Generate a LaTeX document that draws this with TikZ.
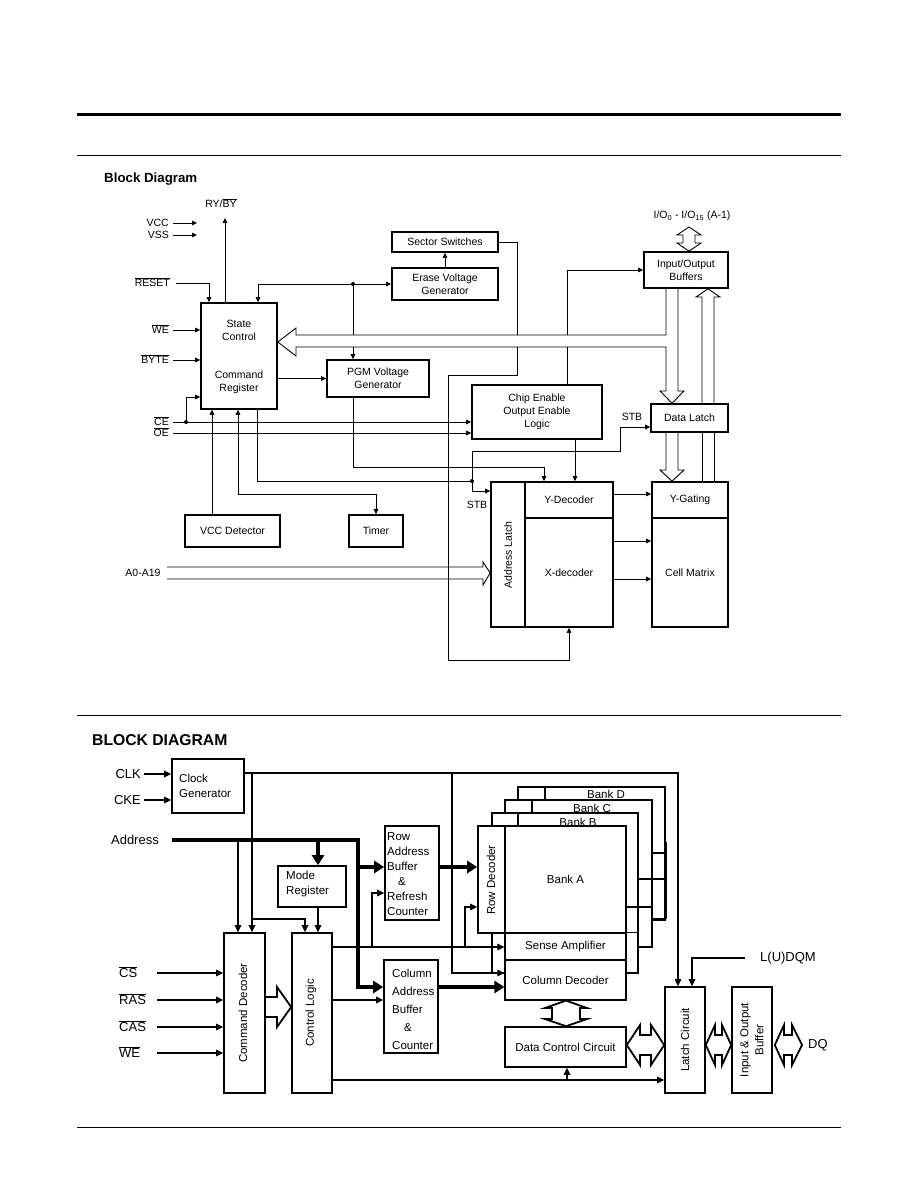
\documentclass[tikz,border=0pt]{standalone}
\usepackage{fontspec}
\setmainfont{Liberation Sans}
\usetikzlibrary{arrows.meta}
\newcommand{\ovl}[1]{$\overline{\mbox{#1}}$}
\begin{document}
\begin{tikzpicture}[x=1pt,y=-1pt,
  fA/.style={font=\fontsize{10.5}{13}\selectfont},
  fB/.style={font=\fontsize{11.5}{15}\selectfont},
  fC/.style={font=\fontsize{13}{15}\selectfont},
  boxA/.style={draw,line width=1.6pt,fill=white,inner sep=0pt,align=center,fA},
  boxB/.style={draw,line width=1.6pt,fill=white,inner sep=0pt,align=center,fB},
  bank/.style={draw,fill=white,inner sep=0pt},
  lnA/.style={line width=0.9pt},
  arrA/.style={lnA,-{Triangle[length=5pt,width=4.5pt]}},
  lnB/.style={line width=1.4pt},
  arrB/.style={lnB,-{Triangle[length=7pt,width=6.5pt]}},
  thk/.style={line width=4pt},
  arrT/.style={thk,-{Triangle[length=10pt,width=12pt]}},
  hol/.style={line width=1.8pt,line join=miter},
  lbl/.style={inner sep=0pt},
]
\fill[white] (0,0) rectangle (918,1190);
\useasboundingbox (0,0) rectangle (918,1190);
% page rules
\draw[line width=3pt] (77,115) -- (841,115);
\draw[lnA] (77,155) -- (841,155);
\draw[lnA] (77,715) -- (841,715);
\draw[lnA] (77,1127) -- (841,1127);

% ================= first diagram =================
\node[lbl,anchor=west,font=\bfseries\fontsize{13.3}{16}\selectfont] (t1) at (104,179) {Block Diagram};
\node[lbl,fA] (ry) at (221,203) {RY/\ovl{BY}};
\node[lbl,fA,anchor=east] (vcc) at (169,223) {VCC};
\node[lbl,fA,anchor=east] (vss) at (169,235) {VSS};
\node[lbl,fA,anchor=east] (reset) at (170,282) {\ovl{RESET}};
\node[lbl,fA,anchor=east] (we) at (169,329) {\ovl{WE}};
\node[lbl,fA,anchor=east] (byte) at (169,359) {\ovl{BYTE}};
\node[lbl,fA,anchor=east] (lce) at (169,421) {\ovl{CE}};
\node[lbl,fA,anchor=east] (loe) at (169,432) {\ovl{OE}};
\node[lbl,fA] (iol) at (692,216) {I/O\textsubscript{0} - I/O\textsubscript{15} (A-1)};
\node[lbl,fA] (stb1) at (632,417) {STB};
\node[lbl,fA] (stb2) at (477,505) {STB};
\node[lbl,fA] (a0) at (143,573) {A0-A19};

\node[boxA,minimum width=76pt,minimum height=106pt] (sc) at (239,356) {};
\node[lbl,fA,align=center] (sct) at (239,330) {State\\Control};
\node[lbl,fA,align=center] (crt) at (239,382) {Command\\Register};
\node[boxA,minimum width=106pt,minimum height=20pt] (ss) at (445,242) {Sector Switches};
\node[boxA,minimum width=106pt,minimum height=32pt] (evg) at (445,284) {Erase Voltage\\Generator};
\node[boxA,minimum width=102pt,minimum height=37pt] (pgm) at (378,378.5) {PGM Voltage\\Generator};
\node[boxA,minimum width=84pt,minimum height=36pt] (iob) at (686,270) {Input/Output\\Buffers};
\node[boxA,minimum width=77pt,minimum height=28pt] (dl) at (689.5,418) {Data Latch};
\node[boxA,minimum width=130pt,minimum height=54pt] (ceol) at (537,412) {Chip Enable\\Output Enable\\Logic};
\node[boxA,minimum width=95pt,minimum height=32pt] (vccd) at (232.5,531) {VCC Detector};
\node[boxA,minimum width=54pt,minimum height=32pt] (tmr) at (376,531) {Timer};
\node[boxA,minimum width=34pt,minimum height=145pt] (al) at (508,554.5) {};
\node[lbl,fA,rotate=90] (alt) at (508,555) {Address Latch};
\node[boxA,minimum width=88pt,minimum height=36pt] (yd) at (569,500) {Y-Decoder};
\node[boxA,minimum width=88pt,minimum height=109pt] (xd) at (569,572.5) {X-decoder};
\node[boxA,minimum width=76pt,minimum height=36pt] (yg) at (690,500) {Y-Gating};
\node[boxA,minimum width=76pt,minimum height=109pt] (cm) at (690,572.5) {Cell Matrix};

% connectors
\draw[arrA] (vcc.east) ++(4,0) -- ++(24,0);
\draw[arrA] (vss.east) ++(4,0) -- ++(24,0);
\draw[arrA] (sc.north -| 225,0) -- (225,218);
\draw[arrA] (176,283) -| (sc.north -| 209,0);
\draw[arrA] (173,330) -- (sc.west |- 0,330);
\draw[arrA] (173,360) -- (sc.west |- 0,360);
\draw[arrA] (173,422) -- (ceol.west |- 0,422);
\draw[arrA] (173,433) -- (ceol.west |- 0,433);
\draw[arrA] (186,422) |- (sc.west |- 0,397);
\fill (186,422) circle (2pt);
\draw[arrA] (353,284) -- (evg.west);
\draw[arrA] (353,284) -| (sc.north -| 258,0);
\fill (353,284) circle (2pt);
\draw[lnA] (353,284) -- (353,335);
\draw[arrA] (353,347) -- (pgm.north -| 353,0);
\draw[arrA] (evg.north) -- (ss.south);
\draw[lnA] (ss.east) -- (517,242) -- (517,335);
\draw[arrA] (517,347) -- (517,375) -- (448,375) -- (448,660) -- (569,660) -- (xd.south -| 569,0);
\draw[arrA] (sc.east |- pgm.west) -- (pgm.west);
% wide bus into state control and down into data latch
\draw[lnA,line join=miter] (iob.south -| 666,0) -- (666,335) -- (296,335) -- (296,328) -- (sc.east |- 0,342) -- (296,356) -- (296,347) -- (666,347) -- (666,391) -- (660,391) -- (dl.north -| 672,0) -- (684,391) -- (678,391) -- (iob.south -| 678,0);
\draw[arrA] (567,335) |- (iob.west);
\draw[lnA] (567,347) -- (ceol.north -| 567,0);
% wide arrow up into I/O buffers
\draw[lnA,line join=miter] (dl.north -| 702,0) -- (702,297) -- (696,297) -- (iob.south -| 708,0) -- (720,297) -- (714,297) -- (dl.north -| 714,0);
\draw[lnA] (dl.south -| 702,0) -- (yg.north -| 702,0);
\draw[lnA] (dl.south -| 714,0) -- (yg.north -| 714,0);
% wide arrow data latch -> Y-gating
\draw[lnA,line join=miter] (dl.south -| 666,0) -- (666,470) -- (660,470) -- (yg.north -| 672,0) -- (684,470) -- (678,470) -- (dl.south -| 678,0);
\draw[arrA] (pgm.south -| 353,0) |- (544,467) -- (yd.north -| 544,0);
\draw[arrA] (ceol.south -| 575,0) -- (yd.north -| 575,0);
\draw[lnA] (sc.south -| 257,0) |- (472,481);
\fill (472,481) circle (2pt);
\draw[arrA] (472,481) |- (al.west |- 0,491);
\draw[arrA] (472,481) -- (472,451) -| (620,427) -- (dl.west |- 0,427);
\draw[arrA] (vccd.north -| 212,0) -- (sc.south -| 212,0);
\draw[lnA,{Triangle[length=5pt,width=4.5pt]}-{Triangle[length=5pt,width=4.5pt]}] (sc.south -| 238,0) |- (376,494) -- (tmr.north);
\draw[lnA,line join=miter] (167,567) -- (483,567) -- (483,562) -- (al.west |- 0,573) -- (483,585) -- (483,579) -- (167,579);
\draw[arrA] (yd.east |- 0,494) -- (yg.west |- 0,494);
\draw[arrA] (xd.east |- 0,541) -- (cm.west |- 0,541);
\draw[arrA] (xd.east |- 0,579) -- (cm.west |- 0,579);
\draw[lnA,line join=miter] (689,227) -- (701,235) -- (695,235) -- (695,243) -- (701,243) -- (iob.north -| 689,0) -- (677,243) -- (683,243) -- (683,235) -- (677,235) -- cycle;

% ================= second diagram =================
\node[lbl,anchor=west,font=\bfseries\fontsize{15.7}{18}\selectfont] (t2) at (92,740) {BLOCK DIAGRAM};
\node[lbl,anchor=east,fC] (clk) at (141,774) {CLK};
\node[lbl,anchor=east,fC] (cke) at (141,800) {CKE};
\node[lbl,anchor=east,fC] (addr) at (159,840) {Address};
\node[lbl,anchor=west,fC] (cs) at (119,972) {\ovl{CS}};
\node[lbl,anchor=west,fC] (ras) at (119,999) {\ovl{RAS}};
\node[lbl,anchor=west,fC] (cas) at (119,1026) {\ovl{CAS}};
\node[lbl,anchor=west,fC] (we2) at (119,1052) {\ovl{WE}};
\node[lbl,anchor=west,fC] (ldqm) at (760,958) {L(U)DQM};
\node[lbl,anchor=west,fC] (dq) at (808,1045) {DQ};

\node[boxB,minimum width=72pt,minimum height=54pt] (cg) at (208,786) {};
\node[lbl,fB,anchor=west,align=left] (cgt) at (179,786) {Clock\\Generator};
\node[boxB,minimum width=68pt,minimum height=41pt] (mr) at (312,886.5) {};
\node[lbl,fB,anchor=west,align=left] (mrt) at (286,884) {Mode\\Register};
\node[boxB,minimum width=41pt,minimum height=160pt] (cd) at (244.5,1013) {};
\node[lbl,fB,rotate=90] (cdt) at (243,1013) {Command Decoder};
\node[boxB,minimum width=40pt,minimum height=160pt] (cl) at (312,1013) {};
\node[lbl,fB,rotate=90] (clt) at (311,1013) {Control Logic};
\node[boxB,minimum width=54pt,minimum height=94pt] (rab) at (412,873) {};
\node[lbl,fB,anchor=north west,align=left] (rabt) at (387,832) {Row\\Address\\Buffer\\\hspace*{11pt}\&\\Refresh\\Counter};
\node[boxB,minimum width=54pt,minimum height=93pt] (cab) at (411,1006.5) {};
\node[lbl,anchor=north west,align=left,font=\fontsize{11.5}{18}\selectfont] (cabt) at (392,969) {Column\\Address\\Buffer\\\hspace*{12pt}\&\\Counter};

% banks (back to front)
\node[bank,line width=1.4pt,minimum width=147pt,minimum height=133pt] (bd) at (591.5,853.5) {};
\node[lbl,fB] (bdt) at (606,794) {Bank D};
\node[bank,line width=2pt,minimum width=147pt,minimum height=147pt] (bc) at (578.5,873.5) {};
\node[lbl,fB] (bct) at (592,808) {Bank C};
\node[bank,line width=1.4pt,minimum width=146pt,minimum height=160pt] (bb) at (565,893) {};
\node[lbl,fB] (bbt) at (578,822) {Bank B};
\node[boxB,minimum width=27pt,minimum height=107pt] (rd) at (491.5,879.5) {};
\node[lbl,fB,rotate=90] (rdt) at (491,880) {Row Decoder};
\node[boxB,minimum width=121pt,minimum height=107pt] (ba) at (565.5,879.5) {Bank A};
\node[boxB,line width=1.2pt,minimum width=121pt,minimum height=27pt] (sa) at (565.5,946.5) {Sense Amplifier};
\node[boxB,line width=1.2pt,minimum width=121pt,minimum height=40pt] (cdec) at (565.5,980) {Column Decoder};
\node[boxB,minimum width=121pt,minimum height=40pt] (dcc) at (565.5,1047) {Data Control Circuit};
\node[boxB,minimum width=40pt,minimum height=106pt] (lc) at (685,1040) {};
\node[lbl,fB,rotate=90] (lct) at (685,1040) {Latch Circuit};
\node[boxB,minimum width=40pt,minimum height=106pt] (iob2) at (752,1040) {};
\node[lbl,fB,rotate=90,align=center] (iob2t) at (752,1040) {Input \& Output\\Buffer};

% bank dividers and side links
\draw[lnB] (bd.north -| 545,0) -- (bc.north -| 545,0);
\draw[lnB] (bc.north -| 532,0) -- (bb.north -| 532,0);
\draw[lnB] (bb.north -| 518,0) -- (rd.north -| 518,0);
\draw[line width=2pt] (bc.east |- 0,853) -- (bd.east |- 0,853);
\draw[line width=2pt] (bb.east |- 0,879) -- (bd.east |- 0,879);
\draw[lnB] (ba.east |- 0,907) -- (bc.east |- 0,907);
\draw[line width=2pt] (bc.east |- 0,919) -- (bd.east |- 0,919);
\draw[line width=3pt] (bd.east |- 0,842) -- (bd.east |- 0,919);
\draw[lnB] (sa.north east) -- (bb.east |- sa.north east);

% connectors
\draw[arrB] (clk.east) ++(3,0) -- (cg.west |- clk.east);
\draw[arrB] (cke.east) ++(3,0) -- (cg.west |- cke.east);
\draw[arrB] (cg.east |- 0,773) -- (678,773) -- (lc.north -| 678,0);
\draw[arrB,line width=2pt] (252,773) -- (cd.north -| 252,0);
\draw[arrB] (252,919) -| (cl.north -| 305,0);
\draw[arrB] (452,773) |- (cdec.west |- 0,973);
\draw[arrB] (238,840) -- (cd.north -| 238,0);
\draw[arrT,line join=miter] (addr.east) ++(13,0) -| (358,987) -- (cab.west |- 0,987);
\draw[arrT] (318,840) -- (mr.north -| 318,0);
\draw[arrT] (358,867) -- (rab.west |- 0,867);
\draw[arrT] (rab.east |- 0,867) -- (rd.west |- 0,867);
\draw[arrT] (cab.east |- 0,987) -- (cdec.west |- 0,987);
\draw[arrB] (mr.south -| 318,0) -- (cl.north -| 318,0);
\draw[arrB] (cl.east |- 0,947) -- (sa.west |- 0,947);
\draw[arrB] (372,947) |- (rab.west |- 0,893);
\draw[arrB] (465,947) |- (rd.west |- 0,907);
\draw[arrB] (cl.east |- 0,1000) -- (cab.west |- 0,1000);
\draw[arrB] (cl.east |- 0,1080) -- (lc.west |- 0,1080);
\draw[arrB] (567,1080) -- (dcc.south -| 567,0);
\draw[arrB] (ldqm.west) ++(-15,0) -| (lc.north -| 692,0);
\draw[arrB] (157,973) -- (cd.west |- 0,973);
\draw[arrB] (157,1000) -- (cd.west |- 0,1000);
\draw[arrB] (157,1027) -- (cd.west |- 0,1027);
\draw[arrB] (157,1053) -- (cd.west |- 0,1053);
% hollow arrows
\draw[hol] (cd.east |- 0,997) -- (277,997) -- (277,987) -- (cl.west |- 0,1007) -- (277,1027) -- (277,1017) -- (cd.east |- 0,1017);
\draw[hol] (cdec.south -| 566,0) -- (587,1008) -- (580,1008) -- (580,1019) -- (587,1019) -- (dcc.north -| 566,0) -- (545,1019) -- (552,1019) -- (552,1008) -- (545,1008) -- cycle;
\draw[hol] (dcc.east |- 0,1045) -- (640,1025) -- (640,1035) -- (651,1035) -- (651,1025) -- (lc.west |- 0,1045) -- (651,1065) -- (651,1055) -- (640,1055) -- (640,1065) -- cycle;
\draw[hol] (lc.east |- 0,1045) -- (715,1025) -- (715,1035) -- (722,1035) -- (722,1025) -- (iob2.west |- 0,1045) -- (722,1065) -- (722,1055) -- (715,1055) -- (715,1065) -- cycle;
\draw[hol] (iob2.east |- 0,1045) ++(2,0) -- (784,1025) -- (784,1035) -- (792,1035) -- (792,1025) -- (802,1045) -- (792,1065) -- (792,1055) -- (784,1055) -- (784,1065) -- cycle;
\end{tikzpicture}
\end{document}
